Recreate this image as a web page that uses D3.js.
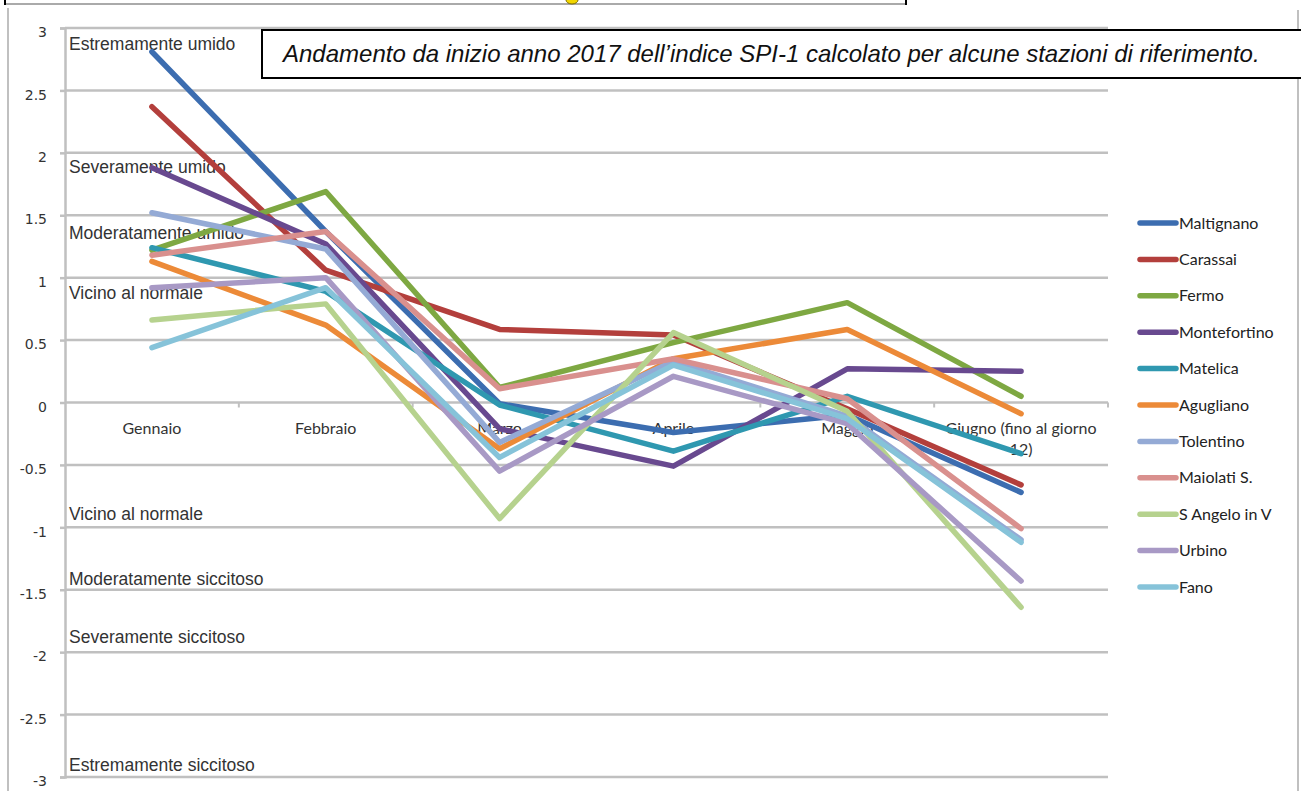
<!DOCTYPE html>
<html>
<head>
<meta charset="utf-8">
<script src="https://cdn.jsdelivr.net/npm/d3@7"></script>
<style>
  body { margin: 0; background: #fff; }
  svg { display: block; }
</style>
</head>
<body>
<svg id="spi_chart" width="1301" height="791"></svg>
<script>
// months on the x axis
var months = ["Gennaio", "Febbraio", "Marzo", "Aprile", "Maggio", "Giugno (fino al giorno 12)"];

// SPI-1 per station
var stations = ["Maltignano", "Carassai", "Fermo", "Montefortino", "Matelica", "Agugliano",
                "Tolentino", "Maiolati S.", "S Angelo in V", "Urbino", "Fano"];
var maltignano   = [2.81, 1.37, -0.01, -0.24, -0.10, -0.72];
var carassai     = [2.37, 1.06, 0.585, 0.54, -0.05, -0.66];
var fermo        = [1.22, 1.69, 0.12, 0.48, 0.80, 0.05];
var montefortino = [1.88, 1.27, -0.21, -0.51, 0.27, 0.25];
var matelica     = [1.24, 0.89, -0.02, -0.39, 0.05, -0.41];
var agugliano    = [1.13, 0.62, -0.37, 0.35, 0.585, -0.09];
var tolentino    = [1.52, 1.23, -0.32, 0.33, -0.11, -1.10];
var maiolati     = [1.18, 1.37, 0.11, 0.35, 0.03, -1.01];
var sangelo      = [0.66, 0.79, -0.93, 0.56, -0.07, -1.64];
var urbino       = [0.92, 1.00, -0.55, 0.21, -0.17, -1.43];
var fano         = [0.44, 0.92, -0.44, 0.30, -0.13, -1.12];
var stationColors = ["#3c6db0", "#b33f3c", "#7ea842", "#68498f", "#2f98b0", "#ec8a38",
                     "#94aad5", "#d9908e", "#b6d28e", "#a899c5", "#86c3d9"];

// y axis ticks
var yTicks = [3, 2.5, 2, 1.5, 1, 0.5, 0, -0.5, -1, -1.5, -2, -2.5, -3];
var yTickLabels = ["3", "2.5", "2", "1.5", "1", "0.5", "0", "-0.5", "-1", "-1.5", "-2", "-2.5", "-3"];

// SPI classes written inside the plot, at their SPI level
var classNames = ["Estremamente umido", "Severamente umido", "Moderatamente umido", "Vicino al normale",
                  "Vicino al normale", "Moderatamente siccitoso", "Severamente siccitoso", "Estremamente siccitoso"];
var classLevels = [2.87, 1.89, 1.36, 0.875, -0.89, -1.41, -1.88, -2.9];

var title = "Andamento da inizio anno 2017 dell\u2019indice SPI-1 calcolato per alcune stazioni di riferimento.";

var series = [maltignano, carassai, fermo, montefortino, matelica, agugliano,
              tolentino, maiolati, sangelo, urbino, fano];

function draw_chart() {
    var svg = d3.select("#spi_chart");
    var plotLeft = 65, plotRight = 1108, plotTop = 28, plotBottom = 777;
    var gridColor = "#c0c0c0";

    var x = d3.scaleBand().domain(months).range([plotLeft, plotRight]).padding(0);
    var y = d3.scaleLinear().domain([-3, 3]).range([plotBottom, plotTop]);
    var xc = function(m) { return x(m) + x.bandwidth() / 2; };

    // page frame pieces
    svg.append("line").attr("x1", 8).attr("x2", 8).attr("y1", 8).attr("y2", 791)
        .attr("stroke", gridColor).attr("stroke-width", 2);
    svg.append("line").attr("x1", 1298).attr("x2", 1298).attr("y1", 10).attr("y2", 791)
        .attr("stroke", gridColor).attr("stroke-width", 2);
    svg.append("line").attr("x1", 5).attr("x2", 906).attr("y1", 4).attr("y2", 4)
        .attr("stroke", "#aaa").attr("stroke-width", 2);
    svg.append("line").attr("x1", 5).attr("x2", 5).attr("y1", 0).attr("y2", 5)
        .attr("stroke", "#000").attr("stroke-width", 2);
    svg.append("line").attr("x1", 906).attr("x2", 906).attr("y1", 0).attr("y2", 5)
        .attr("stroke", "#000").attr("stroke-width", 2);
    svg.append("ellipse").attr("cx", 572).attr("cy", 0).attr("rx", 6).attr("ry", 4)
        .attr("fill", "#f2d600").attr("stroke", "#7a6a00");

    // gridlines
    svg.append("g").selectAll("line")
        .data(yTicks)
        .enter().append("line")
        .attr("x1", plotLeft).attr("x2", plotRight)
        .attr("y1", function(d) { return y(d); })
        .attr("y2", function(d) { return y(d); })
        .attr("stroke", gridColor).attr("stroke-width", 2.5);

    // y axis
    var yAxis = d3.axisLeft(y)
        .tickValues(yTicks)
        .tickSize(5)
        .tickPadding(13)
        .tickFormat(function(d, i) { return yTickLabels[i]; });
    var yg = svg.append("g").attr("transform", "translate(" + plotLeft + ",0)").call(yAxis);
    yg.select(".domain").attr("stroke", gridColor).attr("stroke-width", 2.5);
    yg.selectAll(".tick line").attr("stroke", gridColor).attr("stroke-width", 2.5);
    yg.selectAll(".tick text")
        .attr("fill", "#333")
        .attr("dy", "0.62em")
        .style("font-family", "'DejaVu Sans', Verdana, sans-serif")
        .style("font-size", "14px");

    // x axis on zero line, ticks at band edges
    var xg = svg.append("g");
    xg.selectAll("line")
        .data(months)
        .enter().append("line")
        .attr("x1", function(d) { return x(d) + x.bandwidth(); })
        .attr("x2", function(d) { return x(d) + x.bandwidth(); })
        .attr("y1", y(0)).attr("y2", y(0) + 5)
        .attr("stroke", gridColor).attr("stroke-width", 2);

    xg.selectAll("text")
        .data(months)
        .enter().append("text")
        .attr("text-anchor", "middle")
        .attr("x", xc)
        .attr("y", y(0) + 31)
        .attr("fill", "#333")
        .style("font-family", "Lato, sans-serif")
        .style("font-size", "16px")
        .each(function(d) {
            var t = d3.select(this);
            var parts = d.indexOf("(") > 0 ? ["Giugno (fino al giorno", "12)"] : [d];
            parts.forEach(function(p, i) {
                t.append("tspan").attr("x", xc(d)).attr("dy", i == 0 ? 0 : 21).text(p);
            });
        });

    // class annotations
    svg.append("g").selectAll("text")
        .data(classNames)
        .enter().append("text")
        .attr("x", plotLeft + 4)
        .attr("y", function(d, i) { return y(classLevels[i]) + 6; })
        .attr("fill", "#333")
        .style("font-family", "'Liberation Sans', Arial, sans-serif")
        .style("font-size", "17.5px")
        .text(function(d) { return d; });

    // station lines
    var line = d3.line()
        .x(function(d, i) { return xc(months[i]); })
        .y(function(d) { return y(d); });

    svg.append("g").selectAll("path")
        .data(series)
        .enter().append("path")
        .attr("d", line)
        .attr("fill", "none")
        .attr("stroke", function(d, i) { return stationColors[i]; })
        .attr("stroke-width", 5.5)
        .attr("stroke-linecap", "round")
        .attr("stroke-linejoin", "round");

    // title box
    svg.append("rect")
        .attr("x", 262).attr("y", 30)
        .attr("width", 1100).attr("height", 48)
        .attr("fill", "#fff").attr("stroke", "#000").attr("stroke-width", 2);
    svg.append("text")
        .attr("x", 283).attr("y", 62)
        .attr("fill", "#111")
        .style("font-family", "'Liberation Sans', Arial, sans-serif")
        .style("font-style", "italic")
        .style("font-size", "24px")
        .text(title);

    // legend
    var legend = svg.append("g").selectAll("g")
        .data(stations)
        .enter().append("g")
        .attr("transform", function(d, i) { return "translate(1138," + (223 + i * 36.4) + ")"; });
    legend.append("line")
        .attr("x1", 2).attr("x2", 38)
        .attr("stroke", function(d, i) { return stationColors[i]; })
        .attr("stroke-width", 5.5)
        .attr("stroke-linecap", "round");
    legend.append("text")
        .attr("x", 41).attr("y", 5.5)
        .attr("fill", "#222")
        .style("font-family", "Lato, sans-serif")
        .style("font-size", "16px")
        .text(function(d) { return d; });
}

draw_chart();
</script>
</body>
</html>
